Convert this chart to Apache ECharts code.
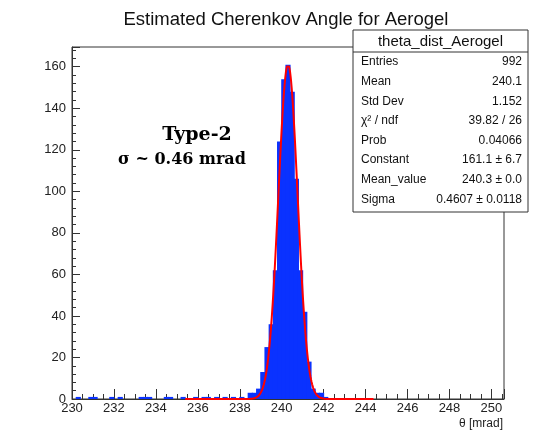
<!DOCTYPE html>
<html>
<head>
<meta charset="utf-8">
<script src="https://cdn.jsdelivr.net/npm/echarts@6/dist/echarts.min.js"></script>
<style>
  html, body { margin: 0; padding: 0; background: #ffffff; }
  #chart { width: 558px; height: 435px; }
</style>
</head>
<body>
<div id="chart"></div>
<script>
// Histogram binning (mrad)
const binWidth = 0.2;
const binLowEdges = [
  230.2, 230.8, 231.0, 231.8, 232.2, 233.2, 233.4, 233.6, 234.4, 234.6,
  235.2, 235.8, 236.2, 236.4, 236.8, 237.2, 237.6, 238.0,
  238.4, 238.6, 238.8, 239.0, 239.2, 239.4, 239.6, 239.8,
  240.0, 240.2, 240.4, 240.6, 240.8, 241.0, 241.2, 241.4, 241.6, 241.8, 242.0
];
const binCounts = [
  1, 1, 1, 1, 1, 1, 1, 1, 1, 1,
  1, 1, 1, 1, 1, 1, 1, 1,
  3, 3, 5, 13, 25, 36, 62, 124,
  154, 161, 148, 106, 62, 42, 18, 5, 3, 3, 1
];

// Gaussian fit result
const fitConstant = 161.1;
const fitMean = 240.3;
const fitSigma = 0.4607;
const fitRange = [235.4, 244.4];

// Axes
const xRange = [230, 250.6];
const yRange = [0, 169.5];

// Statistics box
const statsTitle = 'theta_dist_Aerogel';
const statsLabels = ['Entries', 'Mean', 'Std Dev', 'χ² / ndf', 'Prob', 'Constant', 'Mean_value', 'Sigma'];
const statsValues = ['992', '240.1', '1.152', '39.82 / 26', '0.04066', '161.1 ± 6.7', '240.3 ± 0.0', '0.4607 ± 0.0118'];

const chartTitle = 'Estimated Cherenkov Angle for Aerogel';
const xAxisTitle = 'θ [mrad]';
const noteLines = ['Type-2', 'σ ~ 0.46 mrad'];

// Fit curve sampled from the fitted parameters
const fitCurve = [];
const nSteps = 360;
for (let i = 0; i <= nSteps; i++) {
  const x = fitRange[0] + (fitRange[1] - fitRange[0]) * i / nSteps;
  const z = (x - fitMean) / fitSigma;
  fitCurve.push([x, fitConstant * Math.exp(-0.5 * z * z)]);
}

const histData = binLowEdges.map((e, i) => [e, binCounts[i]]);

const SANS = '"Liberation Sans", Arial, sans-serif';
const SERIF = '"DejaVu Serif", serif';
const axisColor = '#333333';
const histColor = '#0a32ff';

const chart = echarts.init(document.getElementById('chart'), null, { renderer: 'canvas' });

// Statistics box graphics
const boxLeft = 353, boxTop = 30, boxW = 175, boxH = 182, headH = 22;
const rowTop = boxTop + headH + 10, rowStep = 19.6;
const statsGraphics = [
  { type: 'rect', shape: { x: boxLeft, y: boxTop, width: boxW, height: boxH },
    style: { fill: '#ffffff', stroke: '#333333', lineWidth: 1 }, z: 10 },
  { type: 'line', shape: { x1: boxLeft, y1: boxTop + headH, x2: boxLeft + boxW, y2: boxTop + headH },
    style: { stroke: '#333333', lineWidth: 1 }, z: 11 },
  { type: 'text', x: boxLeft + boxW / 2, y: boxTop + headH / 2 + 1,
    style: { text: statsTitle, font: '15px ' + SANS, fill: '#111', align: 'center', verticalAlign: 'middle' }, z: 11 }
];
statsLabels.forEach((lab, i) => {
  statsGraphics.push({ type: 'text', x: boxLeft + 8, y: rowTop + i * rowStep,
    style: { text: lab, font: '12px ' + SANS, fill: '#111', align: 'left', verticalAlign: 'middle' }, z: 11 });
  statsGraphics.push({ type: 'text', x: boxLeft + boxW - 6, y: rowTop + i * rowStep,
    style: { text: statsValues[i], font: '12px ' + SANS, fill: '#111', align: 'right', verticalAlign: 'middle' }, z: 11 });
});

const option = {
  animation: false,
  backgroundColor: '#ffffff',
  title: {
    text: chartTitle, left: 281, top: 5, textAlign: 'center',
    textStyle: { fontFamily: SANS, fontSize: 18.5, fontWeight: 'normal', color: '#111' }
  },
  grid: {
    left: 72, right: 54, top: 47, bottom: 36,
    show: true, borderColor: axisColor, borderWidth: 1, backgroundColor: 'transparent'
  },
  xAxis: {
    type: 'value', min: xRange[0], max: xRange[1], interval: 2,
    axisLine: { show: true, onZero: false, lineStyle: { color: axisColor, width: 1 } },
    axisTick: { show: true, inside: true, length: 10, lineStyle: { color: axisColor } },
    minorTick: { show: true, splitNumber: 4, length: 5, lineStyle: { color: axisColor } },
    axisLabel: { show: true, margin: 3, fontFamily: SANS, fontSize: 13, color: '#222', showMaxLabel: false,
      formatter: v => String(Math.round(v)) },
    splitLine: { show: false }
  },
  yAxis: {
    type: 'value', min: yRange[0], max: yRange[1], interval: 20,
    axisLine: { show: true, onZero: false, lineStyle: { color: axisColor, width: 1 } },
    axisTick: { show: true, inside: true, length: 8, lineStyle: { color: axisColor } },
    minorTick: { show: true, splitNumber: 5, length: 4, lineStyle: { color: axisColor } },
    axisLabel: { show: true, margin: 6, fontFamily: SANS, fontSize: 13, color: '#222', showMaxLabel: false },
    splitLine: { show: false }
  },
  series: [
    {
      type: 'custom',
      name: 'theta_dist_Aerogel',
      data: histData,
      encode: { x: 0, y: 1 },
      renderItem: function (params, api) {
        const x0 = api.value(0);
        const c = api.value(1);
        const pTop = api.coord([x0, c]);
        const pBot = api.coord([x0 + binWidth, 0]);
        // widen each bin slightly so neighbouring bins join without seams
        return {
          type: 'rect',
          shape: { x: pTop[0] - 0.5, y: pTop[1], width: pBot[0] - pTop[0] + 1, height: pBot[1] - pTop[1] },
          style: { fill: histColor }
        };
      },
      z: 2
    },
    {
      type: 'line',
      name: 'gaus',
      data: fitCurve,
      showSymbol: false,
      symbol: 'none',
      lineStyle: { color: '#ff0000', width: 2 },
      z: 3
    }
  ],
  graphic: [
    { type: 'text', x: 197, y: 135,
      style: { text: noteLines[0], font: 'bold 19px ' + SERIF, fill: '#000', align: 'center', verticalAlign: 'middle' } },
    { type: 'text', x: 182, y: 160,
      style: { text: noteLines[1], font: 'bold 16px ' + SERIF, fill: '#000', align: 'center', verticalAlign: 'middle' } },
    { type: 'text', x: 503, y: 424,
      style: { text: xAxisTitle, font: '12px ' + SANS, fill: '#222', align: 'right', verticalAlign: 'middle' } }
  ].concat(statsGraphics)
};

chart.setOption(option);
</script>
</body>
</html>
